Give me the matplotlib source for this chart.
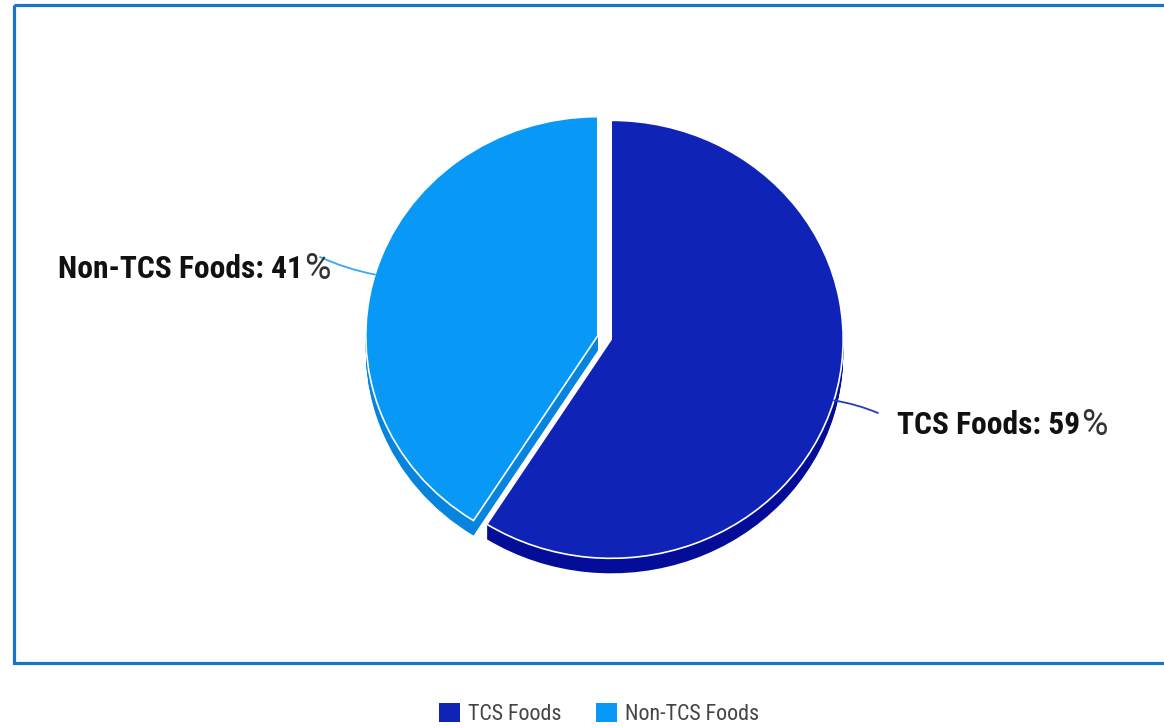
import numpy as np
import matplotlib
matplotlib.use('Agg')
import matplotlib.pyplot as plt
from matplotlib import font_manager as fm
from matplotlib.patches import Rectangle, Patch

# ---- data ----
categories = ['TCS Foods', 'Non-TCS Foods']
shares = [59, 41]
label_texts = ['TCS Foods: 59', 'Non-TCS Foods: 41']
top_colors = ['#0f24b6', '#0899f6']
side_colors = ['#030d97', '#0684de']
line_colors = ['#2b3aba', '#3aa8f2']

W, H = 1164, 728


def pick(cands, weight='normal'):
    for c in cands:
        try:
            fm.findfont(fm.FontProperties(family=c, weight=weight), fallback_to_default=False)
            return c
        except Exception:
            pass
    return 'DejaVu Sans'


narrow = ['Liberation Sans Narrow', 'Arial Narrow', 'Roboto Condensed', 'DejaVu Sans Condensed',
          'Open Sans Condensed', 'Liberation Sans', 'Arimo', 'DejaVu Sans']
bold_font = pick(narrow, 'bold')
reg_font = pick(narrow, 'normal')
pct_font = pick(['Roboto', 'Liberation Sans', 'DejaVu Sans'])

fig = plt.figure(figsize=(W / 100, H / 100), dpi=100)
fig.patch.set_facecolor('white')

# background / frame
ax_bg = fig.add_axes([0, 0, 1, 1])
ax_bg.set_xlim(0, W)
ax_bg.set_ylim(H, 0)
ax_bg.axis('off')
ax_bg.add_patch(Rectangle((14, 5), 1175 - 14, 663 - 5, fill=False,
                          edgecolor='#1a74c9', linewidth=2.3, clip_on=False))

# pie axes (elliptical pie)
cx, cy, rx, ry = 604.5, 337.5, 232, 219
L = 1.35
ax_pie = fig.add_axes([(cx - L * rx) / W, (H - (cy + L * ry)) / H, 2 * L * rx / W, 2 * L * ry / H])
depth = 15 / ry
explode = [0.03, 0.03]
for k in np.linspace(depth, 0.0, 16):
    ax_pie.pie(shares, colors=side_colors, explode=explode, startangle=90,
               counterclock=False, center=(0, -k),
               wedgeprops=dict(linewidth=0))
wedges, _ = ax_pie.pie(shares, colors=top_colors, explode=explode, startangle=90,
                       counterclock=False,
                       wedgeprops=dict(linewidth=1.2, edgecolor='white'))
ax_pie.set_xlim(-L, L)
ax_pie.set_ylim(-L, L)
ax_pie.set_aspect('auto')
ax_pie.axis('off')

# foreground overlay in pixel coordinates
ax_fg = fig.add_axes([0, 0, 1, 1])
ax_fg.set_xlim(0, W)
ax_fg.set_ylim(H, 0)
ax_fg.axis('off')
ax_fg.patch.set_alpha(0)

label_pos = [(897, 434), (58, 278)]
line_end = [(878, 413), (320, 257)]
label_width = [183, 245]

renderer = fig.canvas.get_renderer()

for i, w in enumerate(wedges):
    th = np.deg2rad((w.theta1 + w.theta2) / 2)
    ex, ey = w.center[0] + w.r * np.cos(th), w.center[1] + w.r * np.sin(th)
    ax_fg.annotate('', xy=(ex, ey), xycoords=ax_pie.transData,
                   xytext=line_end[i], textcoords=ax_fg.transData,
                   arrowprops=dict(arrowstyle='-', color=line_colors[i], lw=1.3,
                                   shrinkA=0, shrinkB=0,
                                   connectionstyle='arc3,rad=0.06'))
    t = ax_fg.text(label_pos[i][0], label_pos[i][1], label_texts[i], family=bold_font,
                   fontweight='bold', fontsize=22, color='#111111', ha='left', va='baseline',
                   zorder=5)
    wpx = t.get_window_extent(renderer).width
    t.set_fontsize(22 * label_width[i] / wpx)
    bb = t.get_window_extent(renderer)
    ax_fg.text(bb.x1 + 1, label_pos[i][1] + 1, '%', family=pct_font, fontsize=26,
               color='#333333', ha='left', va='baseline', zorder=5)

# legend
tmp = ax_fg.text(0, 0, 'Non-TCS Foods', family=reg_font, fontsize=16)
lw_px = tmp.get_window_extent(renderer).width
tmp.remove()
leg_fs = 16 * 135 / lw_px
fs_px = leg_fs * 100 / 72
handles = [Patch(facecolor=c, edgecolor='none') for c in top_colors]
fig.legend(handles, categories, loc='center', bbox_to_anchor=(599 / W, 1 - 714 / H),
           ncol=2, frameon=False, prop=dict(family=reg_font, size=leg_fs),
           labelcolor='#444444', handlelength=21 / fs_px, handleheight=21 / fs_px,
           handletextpad=8 / fs_px, columnspacing=34 / fs_px, borderpad=0, borderaxespad=0)

fig.savefig('out.png', dpi=100, facecolor='white')
